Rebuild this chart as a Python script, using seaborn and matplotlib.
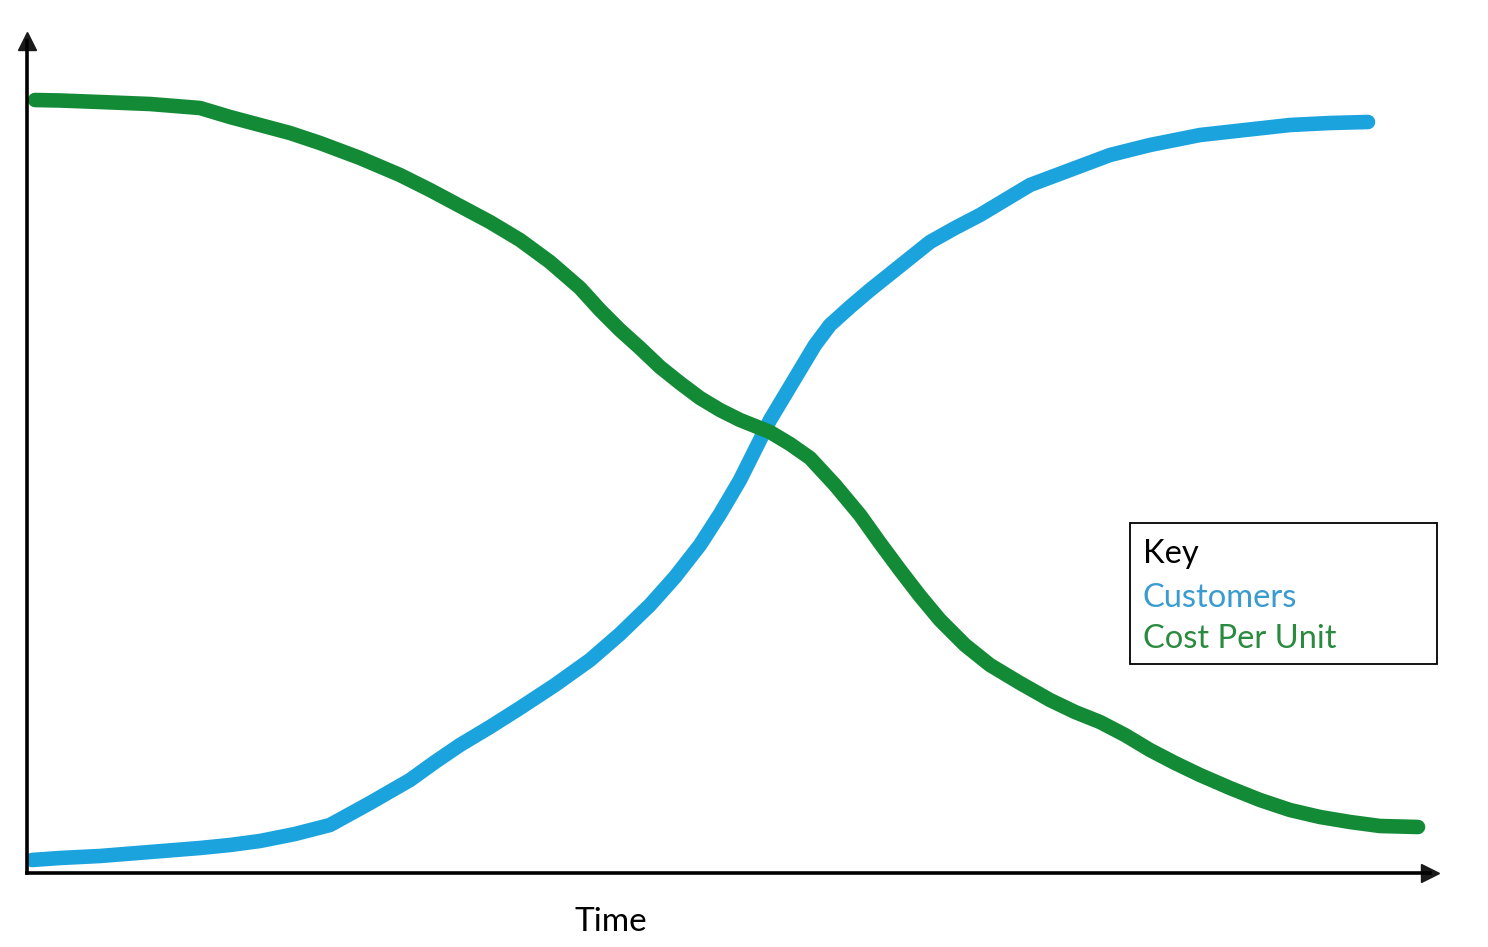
import matplotlib
matplotlib.use("Agg")
import matplotlib.pyplot as plt
from matplotlib.patches import Rectangle
import seaborn as sns
import pandas as pd

# values (arbitrary units, no scale is shown on the axes)
cost_time = [8, 33, 73, 123, 173, 203, 233, 263, 293, 333,
             373, 403, 433, 463, 493, 523, 553, 573, 593, 613,
             633, 653, 673, 693, 713, 743, 763, 783, 808, 833,
             853, 873, 893, 913, 938, 963, 993, 1023, 1048, 1073,
             1098, 1123, 1148, 1173, 1203, 1233, 1263, 1293, 1323, 1353,
             1391]
cost_value = [773, 772.5, 771, 769, 765, 756, 748, 740, 730, 715,
              698, 683, 667, 651, 633, 611, 585, 563, 543, 525,
              506, 490, 475, 463, 453, 441, 429, 415, 388, 358,
              330, 303, 277, 253, 228, 208, 190, 173, 161, 151,
              138, 123, 110, 98, 85, 73, 63, 56, 51, 47,
              46]

cust_time = [5, 33, 73, 123, 173, 203, 233, 268, 303, 343,
             383, 408, 433, 463, 493, 528, 563, 593, 623, 648,
             673, 693, 713, 728, 743, 758, 773, 788, 803, 823,
             843, 873, 903, 928, 953, 978, 1003, 1043, 1083, 1123,
             1173, 1218, 1263, 1303, 1341]
cust_value = [13, 15, 17, 21, 25, 28, 32, 39, 48, 70,
              93, 111, 128, 146, 165, 188, 213, 239, 268, 296,
              328, 359, 393, 423, 453, 478, 503, 528, 548, 566,
              583, 607, 631, 645, 658, 673, 688, 703, 718, 728,
              738, 743, 748, 750, 751]

series_names = ["Customers", "Cost Per Unit"]
line_colors = ["#1BA3DE", "#138A36"]
text_colors = ["#3A9BD0", "#2A8A3E"]

df = pd.concat([
    pd.DataFrame({"Time": cust_time, "Value": cust_value, "Series": series_names[0]}),
    pd.DataFrame({"Time": cost_time, "Value": cost_value, "Series": series_names[1]}),
])

sns.set_theme(style="white")
plt.rcParams["font.family"] = ["Lato", "DejaVu Sans"]

W, H = 1488, 947
fig = plt.figure(figsize=(W / 100, H / 100), dpi=100)
# axes box in pixel terms: left 27, right 1430, bottom 873, top 41
ax = fig.add_axes([27 / W, (H - 873) / H, (1430 - 27) / W, (873 - 41) / H])

sns.lineplot(data=df, x="Time", y="Value", hue="Series", palette=line_colors,
             hue_order=series_names, sort=False, linewidth=10.5,
             ax=ax, legend=False)
for ln in ax.get_lines():
    ln.set_solid_capstyle("round")
    ln.set_solid_joinstyle("round")

ax.set_xlim(0, 1403)
ax.set_ylim(0, 832)
ax.set_xticks([])
ax.set_yticks([])
ax.set_ylabel("")
ax.set_xlabel("")

for side in ["top", "right"]:
    ax.spines[side].set_visible(False)
for side in ["left", "bottom"]:
    ax.spines[side].set_color("black")
    ax.spines[side].set_linewidth(2.6)

# arrow heads on the axes
ax.plot(1, 0, ">k", markersize=13, transform=ax.get_yaxis_transform(), clip_on=False)
ax.plot(0, 1, "^k", markersize=13, transform=ax.get_xaxis_transform(), clip_on=False)

fig.text(611 / W, 1 - 931 / H, "Time", fontsize=24, color="black",
         ha="center", va="baseline")

# key box
fig.patches.append(Rectangle((1130 / W, (H - 664) / H), 307 / W, 141 / H,
                             transform=fig.transFigure, fill=False,
                             edgecolor="black", linewidth=1.3))

handles = [plt.Line2D([], [], linestyle="none") for _ in series_names]
leg = ax.legend(handles, series_names, title="Key", loc="upper left",
                bbox_to_anchor=(1143 / W, 1 - 539 / H),
                bbox_transform=fig.transFigure,
                handlelength=0, handletextpad=0, frameon=False,
                fontsize=23.5, title_fontsize=23.5, alignment="left",
                borderpad=0, labelspacing=0.33, borderaxespad=0)
leg._legend_box.sep = 10
for txt, c in zip(leg.get_texts(), text_colors):
    txt.set_color(c)
leg.get_title().set_color("black")

fig.savefig("out.png", dpi=100)
